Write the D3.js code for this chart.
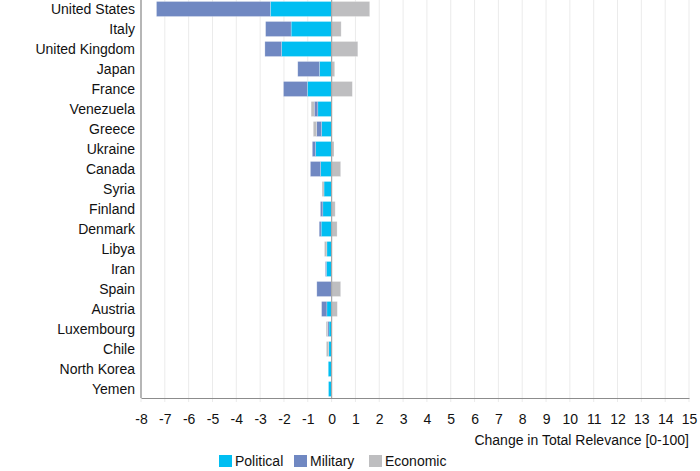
<!DOCTYPE html>
<html>
<head>
<meta charset="utf-8">
<script src="https://cdn.jsdelivr.net/npm/d3@7"></script>
<style>
  body { margin: 0; background: #fff; }
  svg { font-family: "Liberation Sans", Arial, sans-serif; }
</style>
</head>
<body>
<div id="chart"></div>
<script>
// countries, top to bottom
var countries = ["United States", "Italy", "United Kingdom", "Japan", "France",
  "Venezuela", "Greece", "Ukraine", "Canada", "Syria", "Finland", "Denmark",
  "Libya", "Iran", "Spain", "Austria", "Luxembourg", "Chile", "North Korea", "Yemen"];

// change per dimension
var political = [-2.57, -1.70, -2.10, -0.51, -1.02, -0.58, -0.42, -0.67, -0.46, -0.32,
  -0.37, -0.44, -0.20, -0.22, 0, -0.20, -0.11, -0.12, -0.14, -0.13];
var military = [-4.78, -1.07, -0.70, -0.91, -1.00, -0.15, -0.21, -0.14, -0.43, 0,
  -0.10, -0.08, 0, -0.04, -0.62, -0.22, -0.06, 0, 0, 0];
var economic = [1.60, 0.40, 1.10, 0.13, 0.87, -0.13, -0.14, 0.10, 0.38, -0.08,
  0.15, 0.23, -0.10, 0, 0.38, 0.24, -0.06, -0.10, 0, 0];

var seriesNames = ["Political", "Military", "Economic"];
var colors = ["#00bef2", "#7088c2", "#bebec0"];
var xTicks = d3.range(-8, 16);

var width = 700, height = 471;
var margin = {top: 0, right: 11, bottom: 73, left: 141};
var w = width - margin.left - margin.right,
    h = height - margin.top - margin.bottom;

var rows = countries.map(function (c, i) {
  return {country: c, Political: political[i], Military: military[i], Economic: economic[i]};
});

var svg = d3.select("#chart").append("svg")
  .attr("width", width)
  .attr("height", height);

var g = svg.append("g").attr("transform", "translate(" + margin.left + "," + margin.top + ")");

var x = d3.scaleLinear().domain([-8, 15]).range([0, w]);
var y = d3.scaleBand().domain(countries).range([0, h]).paddingInner(0.25).paddingOuter(0.075);

// grid
g.selectAll(".grid")
  .data(xTicks)
  .enter().append("line")
  .attr("x1", function (d) { return x(d); })
  .attr("x2", function (d) { return x(d); })
  .attr("y1", 0)
  .attr("y2", h + 4)
  .attr("stroke", "#ebebeb")
  .attr("stroke-width", 1);

var stack = d3.stack().keys(seriesNames).offset(d3.stackOffsetDiverging);
var stacked = stack(rows);

g.selectAll(".series")
  .data(stacked)
  .enter().append("g")
  .attr("fill", function (d, i) { return colors[i]; })
  .selectAll("rect")
  .data(function (d) { return d; })
  .enter().append("rect")
  .attr("x", function (d) { return x(Math.min(d[0], d[1])); })
  .attr("width", function (d) { return Math.abs(x(d[1]) - x(d[0])); })
  .attr("y", function (d) { return y(d.data.country); })
  .attr("height", y.bandwidth())
  .attr("stroke", "#ffffff")
  .attr("stroke-opacity", 0.4)
  .attr("stroke-width", 0.6);

// zero line
g.append("line")
  .attr("x1", x(0)).attr("x2", x(0))
  .attr("y1", 0).attr("y2", h)
  .attr("stroke", "#a8a8a8")
  .attr("stroke-width", 1.2);

// left axis line + labels
g.append("line")
  .attr("x1", 0).attr("x2", 0).attr("y1", 0).attr("y2", h)
  .attr("stroke", "#8c8c8c").attr("stroke-width", 1.2);

g.selectAll(".label")
  .data(countries)
  .enter().append("text")
  .attr("x", -6)
  .attr("y", function (d) { return y(d) + y.bandwidth() / 2; })
  .attr("dy", "0.35em")
  .attr("text-anchor", "end")
  .attr("font-size", 14)
  .attr("fill", "#111")
  .text(function (d) { return d; });

// bottom axis
var xAxis = g.append("g")
  .attr("transform", "translate(0," + h + ")")
  .call(d3.axisBottom(x).tickValues(xTicks).tickSize(0).tickPadding(16).tickFormat(function (d) { return String(d); }));
xAxis.select(".domain").attr("stroke", "#8c8c8c").attr("stroke-width", 1.2);
xAxis.selectAll("text").attr("font-size", 14).attr("fill", "#111").attr("font-family", "Liberation Sans, Arial, sans-serif");

g.append("text")
  .attr("x", w)
  .attr("y", h + 47)
  .attr("text-anchor", "end")
  .attr("font-size", 14)
  .attr("fill", "#111")
  .text("Change in Total Relevance [0-100]");

// legend
var legendX = [219, 294, 369];
var legend = svg.selectAll(".legend")
  .data(seriesNames)
  .enter().append("g")
  .attr("transform", function (d, i) { return "translate(" + legendX[i] + "," + 455 + ")"; });
legend.append("rect")
  .attr("width", 13).attr("height", 12)
  .attr("fill", function (d, i) { return colors[i]; });
legend.append("text")
  .attr("x", 16).attr("y", 6).attr("dy", "0.35em")
  .attr("font-size", 14)
  .attr("fill", "#111")
  .text(function (d) { return d; });
</script>
</body>
</html>
